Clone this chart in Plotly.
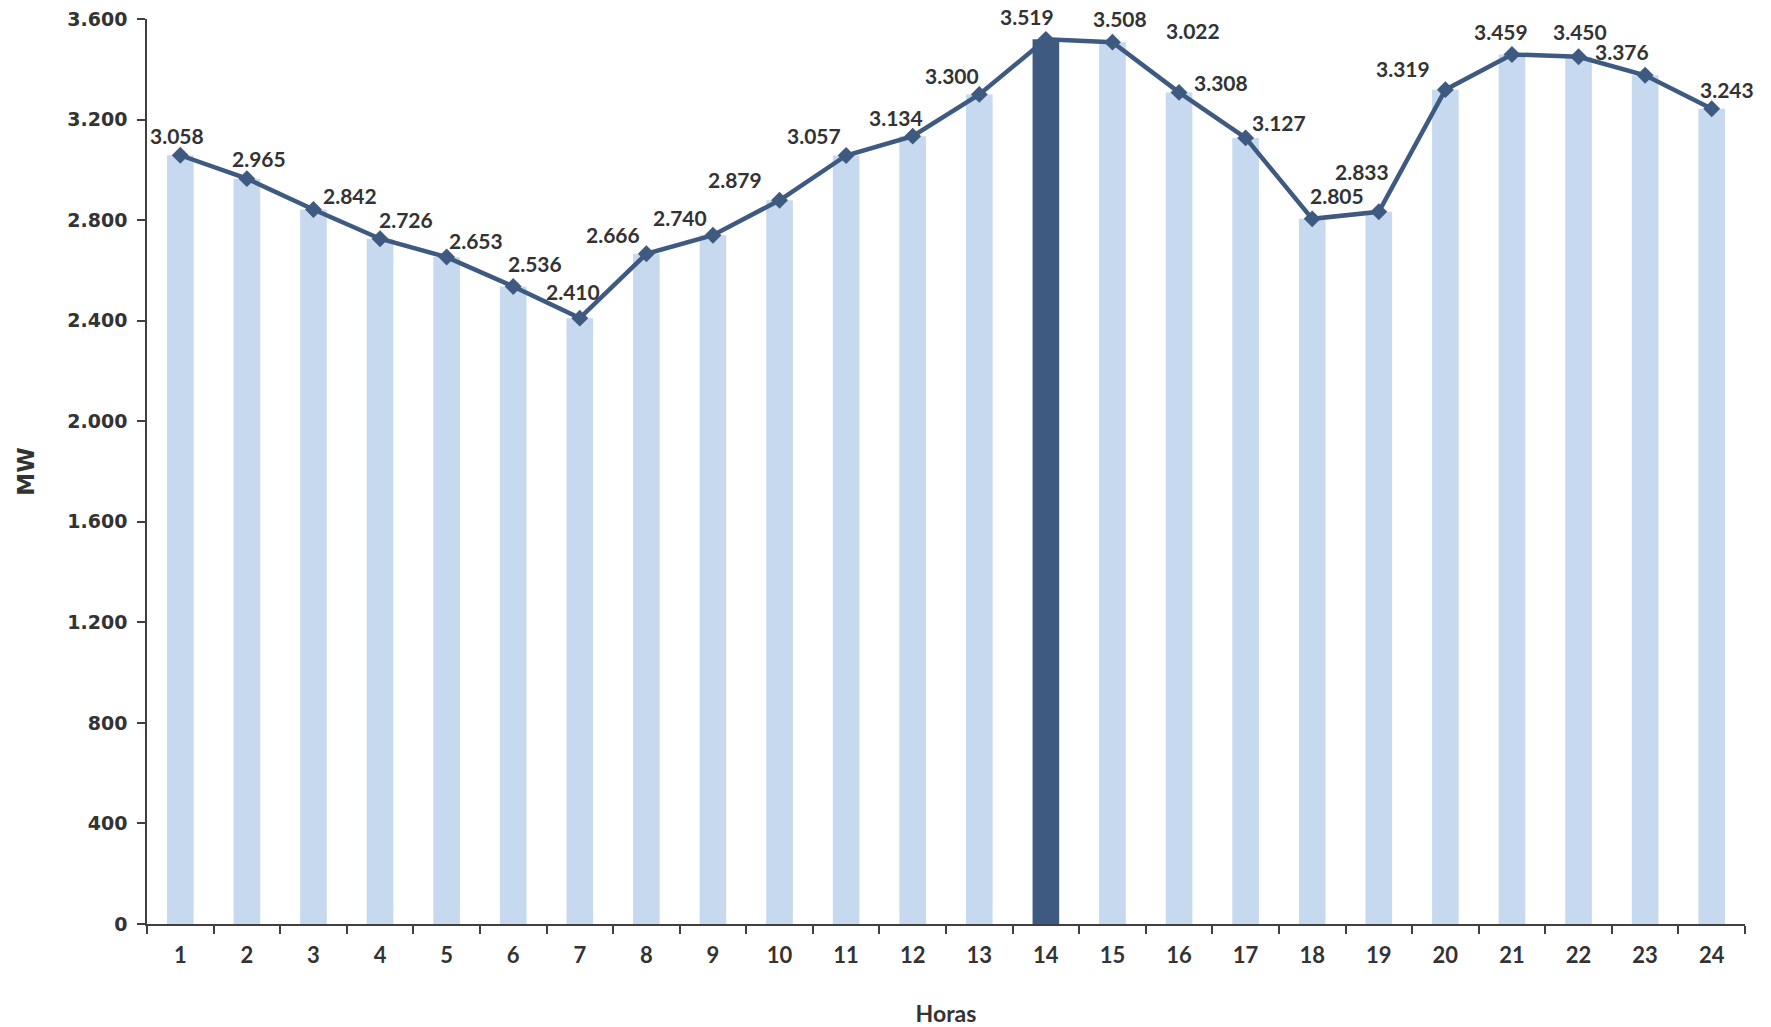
import plotly.graph_objects as go

hours = [str(h) for h in range(1, 25)]
demand_mw = [3058, 2965, 2842, 2726, 2653, 2536, 2410, 2666, 2740, 2879, 3057, 3134,
             3300, 3519, 3508, 3308, 3127, 2805, 2833, 3319, 3459, 3450, 3376, 3243]
peak_hour = "14"
extra_label_hour = "16"
extra_label_text = "3.022"
y_ticks = [0, 400, 800, 1200, 1600, 2000, 2400, 2800, 3200, 3600]

# label pixel offsets (dx, dy) relative to each point (style only)
label_offsets = [(-3, -20), (12, -20), (37, -14), (26, -19), (29, -17), (22, -23), (-7, -27),
                 (-33, -19), (-33, -18), (-45, -21), (-32, -20), (-17, -19), (-27, -19),
                 (-19, -23), (8, -24), (42, -10), (33, -15), (25, -23), (-17, -40),
                 (-42, -21), (-11, -23), (1, -25), (-23, -24), (15, -19)]
extra_offset = (14, -62)

LIGHT = "#C6D9EE"
DARK = "#3E5A81"
TXT = "#333333"

def fmt(v):
    return f"{v:,}".replace(",", ".")

bar_colors = [DARK if h == peak_hour else LIGHT for h in hours]

fig = go.Figure()
fig.add_trace(go.Bar(x=hours, y=demand_mw, marker=dict(color=bar_colors, line=dict(width=0)),
                     hoverinfo="x+y"))
fig.add_trace(go.Scatter(x=hours, y=demand_mw, mode="lines+markers",
                         line=dict(color=DARK, width=4.5),
                         marker=dict(symbol="diamond", size=13, color=DARK)))

lab_font = dict(family="Lato", size=21, color=TXT, weight="bold")
ann = []
for i, (v, (dx, dy)) in enumerate(zip(demand_mw, label_offsets)):
    ann.append(dict(x=i, y=v, xref="x", yref="y", text=fmt(v), showarrow=False,
                    xshift=dx, yshift=-dy, font=lab_font))
ei = hours.index(extra_label_hour)
ann.append(dict(x=ei, y=demand_mw[ei], xref="x", yref="y", text=extra_label_text,
                showarrow=False, xshift=extra_offset[0], yshift=-extra_offset[1],
                font=lab_font))

fig.update_layout(
    width=1771, height=1027,
    margin=dict(l=147, r=26, t=19, b=103),
    paper_bgcolor="white", plot_bgcolor="white",
    showlegend=False, bargap=0.6,
    separators=",.",
    annotations=ann,
)
fig.update_xaxes(
    type="category", range=[-0.5, 23.5], tickson="boundaries", ticks="outside", ticklen=8,
    tickwidth=1.5, tickcolor="#404040", showline=True, linecolor="#404040", linewidth=1.5,
    showgrid=False, zeroline=False, ticklabelstandoff=11, automargin=False,
    ticklabeloverflow="allow",
    tickfont=dict(family="Lato", size=22, color=TXT, weight="bold"),
    title=dict(text="Horas", standoff=39,
               font=dict(family="Lato", size=23, color=TXT, weight="bold")),
)
fig.update_yaxes(
    range=[0, 3600], tickvals=y_ticks, tickformat=",d", ticks="outside", ticklen=8,
    tickwidth=1.5, tickcolor="#404040", showline=True, linecolor="#404040", linewidth=1.5,
    showgrid=False, zeroline=False, ticklabelstandoff=6, automargin=False,
    ticklabeloverflow="allow",
    tickfont=dict(family="DejaVu Sans", size=19, color=TXT, weight="bold"),
    title=dict(text="MW", standoff=26,
               font=dict(family="DejaVu Sans", size=23, color=TXT, weight="bold")),
)
fig.write_html("out.html", config={"displayModeBar": False},
               post_script="document.body.style.margin='0';")
